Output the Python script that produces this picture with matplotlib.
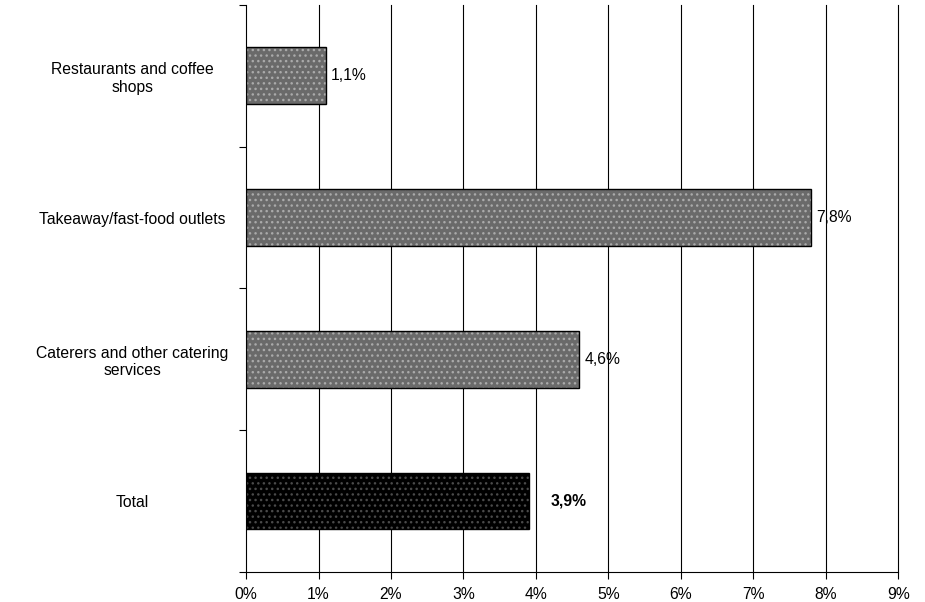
import matplotlib.pyplot as plt
from matplotlib.ticker import FuncFormatter

plt.rcParams['font.family'] = ['Liberation Sans', 'DejaVu Sans']
plt.rcParams['font.size'] = 11.3

categories = ['Restaurants and coffee\nshops', 'Takeaway/fast-food outlets',
              'Caterers and other catering\nservices', 'Total']
values = [1.1, 7.8, 4.6, 3.9]
labels = ['1,1%', '7,8%', '4,6%', '3,9%']

fig = plt.figure(figsize=(9.25, 6.02), dpi=100)
ax = fig.add_axes([0.266, 0.0498, 0.705, 0.942])

pos = list(range(len(categories)))
faces = ['#6a6a6a'] * 3 + ['#000000']
dots = ['#aaaaaa'] * 3 + ['#4a4a4a']

# patterned fill first, then a plain black outline on top
for p, v, fc, dc in zip(pos, values, faces, dots):
    ax.barh(p, v, height=0.4, color=fc, edgecolor=dc, hatch='...', linewidth=0, zorder=3)
    ax.barh(p, v, height=0.4, fill=False, edgecolor='black', linewidth=1, zorder=4)

for p, v, t in zip(pos, values, labels):
    if t == '3,9%':
        ax.text(v + 0.3, p, t, va='center', ha='left', fontweight='bold')
    else:
        ax.text(v + 0.07, p, t, va='center', ha='left')

ax.set_xlim(0, 9)
ax.set_ylim(3.5, -0.5)
ax.set_xticks(range(10))
ax.xaxis.set_major_formatter(FuncFormatter(lambda x, _: '%d%%' % x))
for g in range(1, 10):
    ax.axvline(g, color='black', linewidth=0.8, zorder=0, clip_on=False)

ax.set_yticks([-0.5, 0.5, 1.5, 2.5, 3.5])
ax.set_yticklabels([])
ax.set_yticks(pos, minor=True)
ax.set_yticklabels(categories, minor=True, ha='center', multialignment='center')
ax.tick_params(axis='y', which='minor', length=0, pad=82)
ax.tick_params(axis='y', which='major', length=5)
ax.tick_params(axis='x', length=5, pad=6)

ax.spines['top'].set_visible(False)
ax.spines['right'].set_visible(False)

fig.savefig('out.png', dpi=100)
